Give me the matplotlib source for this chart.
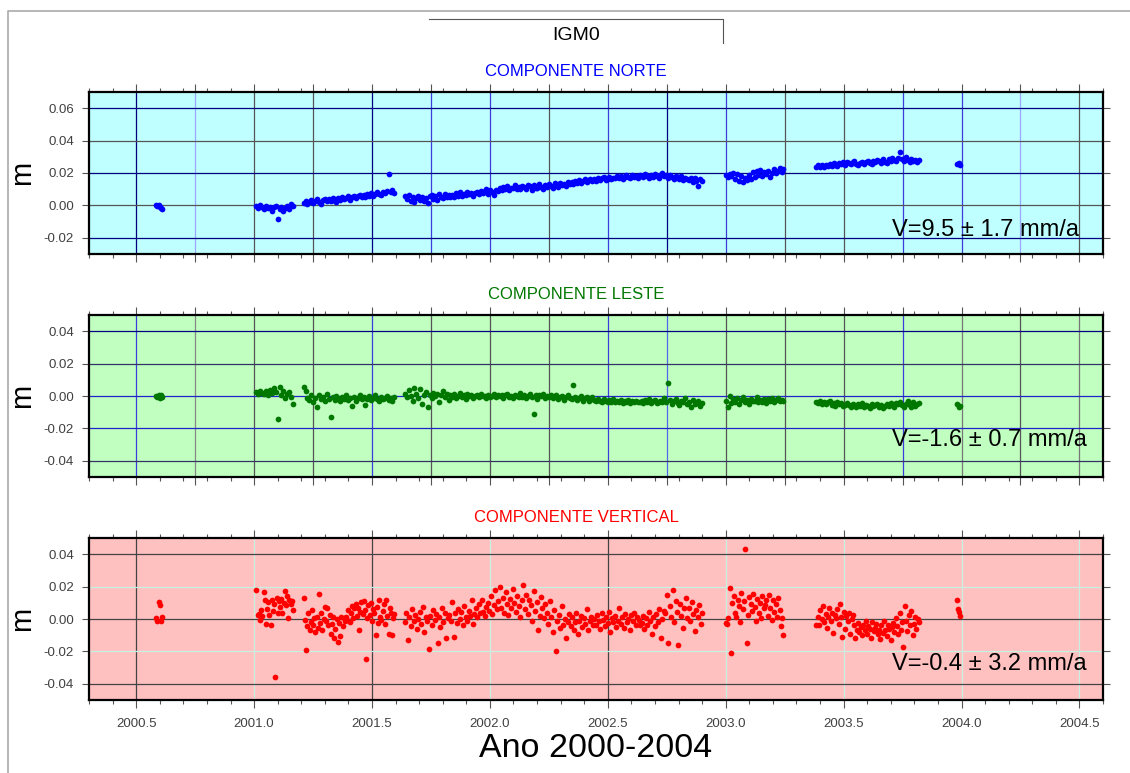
import numpy as np
import matplotlib
matplotlib.use("Agg")
import matplotlib.pyplot as plt
from matplotlib.lines import Line2D
from matplotlib.ticker import MultipleLocator, FuncFormatter

plt.rcParams['font.family'] = ['Liberation Sans', 'DejaVu Sans']

# station IGM0, daily solutions in 7 blocks (decimal years)
seg_start = [2000.585, 2001.010, 2001.210, 2001.640, 2003.000, 2003.385, 2003.982]
seg_end = [2000.610, 2001.165, 2001.595, 2002.900, 2003.245, 2003.820, 2003.995]

# north component, mm
north_mm = [
    [0.0, -0.5, 0.3, -1.0, -1.5, -2.0],
    [-0.5, -1.8, 0.2, -1.0, -2.5, -0.3, -1.5, -0.8, -3.2, -1.2, -0.5, -8.6, -2.0, -1.0, -3.5, -1.6,
     -0.2, -2.4, 0.8, -0.5],
    [1.2, 2.8, 0.8, 2.0, 3.5, 1.5, 2.6, 4.0, 2.2, 1.0, 3.1, 4.2, 2.5, 3.8, 2.9, 4.5, 3.0, 1.8, 4.8,
     3.6, 5.0, 3.9, 4.6, 5.5, 3.4, 5.2, 6.0, 4.3, 5.8, 6.5, 4.9, 6.2, 5.4, 7.0, 6.1, 7.5, 5.6, 6.8,
     8.0, 7.2, 6.4, 8.3, 7.6, 9.0, 19.2, 8.1, 9.5, 7.8],
    [5.5, 4.0, 6.2, 3.0, 5.0, 2.2, 4.5, 6.0, 3.5, 5.2, 2.8, 4.8, 1.2,
     5.5, 6.5, 4.2, 5.8, 3.6, 6.8, 5.0, 4.6, 7.0, 5.4, 6.2, 4.9,
     6.5, 5.2, 7.4, 6.0, 8.0, 5.6, 7.2, 6.6, 8.4, 6.9, 7.8, 5.9, 7.5,
     8.2, 6.8, 9.0, 7.6, 8.8, 10.2, 7.3, 9.4, 8.5, 6.2, 9.8, 8.9,
     10.5, 9.2, 11.6, 10.0, 12.2, 9.5, 11.0, 10.8, 12.6, 9.9, 11.4, 10.3, 12.0,
     11.2, 10.0, 12.5, 11.8, 9.6, 12.8, 11.0, 10.6, 13.0, 11.6, 10.2, 12.3,
     11.5, 13.2, 12.0, 10.8, 13.6, 12.4, 11.2, 14.0, 12.8, 13.5, 11.9, 14.2, 13.0,
     14.5, 13.2, 15.2, 14.0, 15.8, 13.6, 15.0, 16.2, 14.4, 15.6, 16.0, 14.8,
     16.4, 15.2, 17.0, 15.9, 16.8, 17.5, 15.6, 16.5, 17.8, 16.0, 17.2, 16.7, 18.0,
     17.0, 18.2, 16.6, 17.8, 18.6, 17.3, 16.9, 18.8, 17.6, 18.4, 17.1, 19.0,
     18.2, 17.5, 19.2, 18.0, 16.8, 18.8, 17.7, 19.5, 18.4, 17.2, 18.9, 19.8, 17.9,
     18.5, 17.0, 19.0, 17.8, 16.2, 18.2, 17.4, 16.6, 18.0, 15.8, 17.2, 16.4,
     15.5, 16.8, 14.2, 17.0, 15.0, 12.0, 16.2, 14.8],
    [18.5, 17.8, 19.2, 18.0, 20.0, 16.5, 19.5, 15.0, 18.2, 14.2, 17.0, 15.5, 18.8, 16.2, 20.5, 17.6,
     21.0, 19.0, 22.0, 18.4, 20.8, 19.6, 21.5, 17.5, 20.2, 22.4, 19.8, 21.2, 23.0, 20.6, 22.6],
    [23.8, 24.8, 24.0, 25.2, 23.4, 25.0, 24.4, 25.8, 24.6, 26.0, 25.2, 24.2, 26.4, 25.6, 26.8, 25.0,
     27.0, 26.2, 25.4, 26.6, 27.2, 25.8, 24.8, 26.4, 27.0, 25.6, 26.8, 27.4, 26.0, 25.4, 27.6, 26.6,
     28.0, 27.2, 26.4, 28.4, 27.0, 26.2, 28.6, 27.6, 29.0, 28.0, 27.2, 29.4, 33.0, 28.4, 27.6, 30.0,
     28.2, 26.8, 28.8, 27.4, 28.0, 26.6, 27.8],
    [25.5, 26.0, 25.0],
]

# east component, mm
east_mm = [
    [0.0, -0.8, 0.5, -1.2, 0.8, -0.4],
    [2.5, 1.5, 3.2, 2.0, 1.0, 2.8, 0.5, 3.5, 1.8, 4.8, 2.2, -14.2, 5.5, 0.8, 3.0, -1.5, 1.2, 2.6,
     -0.5, -5.0],
    [5.6, 2.8, -1.0, -2.2, 0.5, -4.0, -1.5, -6.8, 0.8, -2.0, -0.5, -3.2, 1.0, -1.8, -13.0, -0.8,
     -2.5, 0.2, -1.2, -3.0, -0.6, -1.8, 0.5, -2.2, -1.0, -6.0, -0.4, -2.8, -1.4, 0.6, -2.0, -0.8,
     -5.5, -1.6, -0.2, -2.6, -1.0, 0.8, -1.8, -3.2, -0.6, -2.0, -1.2, -0.3, -2.4, -1.5, -3.0, -0.9],
    [1.0, -0.5, 3.5, 0.2, -2.8, 5.2, 1.5, -1.0, 4.5, -4.8, 0.5, 2.5, -6.5,
     0.8, -1.5, 2.0, -0.2, 1.2, -3.5, 0.4, 2.8, -0.8, 1.5, -2.2, 0.6,
     -0.5, 1.0, -1.2, 0.2, 1.6, -0.8, 0.5, -1.8, 1.2, -0.3, 0.8, -1.0, 0.0,
     0.5, -0.8, 1.2, -0.2, 0.3, -1.4, 0.9, -0.5, 0.2, 1.0, -0.9, 0.4,
     -0.3, 0.8, -1.2, 0.5, 1.4, -0.6, 0.2, -1.5, 0.9, 0.0, -0.8, 1.6, -0.4,
     0.6, -1.0, 0.3, 1.2, -0.7, -11.0, 0.4, -1.6, 0.8, -0.2, 1.0, -1.2,
     0.2, -0.8, 0.9, -1.4, 0.0, 0.6, -1.8, -0.5, 0.3, -2.2, -0.9, 0.5, -1.3,
     -1.8, 7.0, -0.6, -2.4, -1.2, -0.2, -2.8, -1.5, -0.8, -3.0, -1.9, -0.9,
     -2.4, -3.2, -1.6, -2.8, -3.6, -2.0, -3.0, -4.0, -2.6, -3.4, -1.8, -3.8, -2.9,
     -3.5, -2.6, -4.2, -3.0, -3.8, -2.4, -4.4, -3.2, -3.9, -2.8, -4.0, -3.4,
     -3.0, -4.5, -2.6, -3.8, -1.8, -4.2, -3.2, -2.2, -4.6, -3.5, -2.8, -4.0, -1.5,
     -3.4, 8.0, -2.4, -4.8, -3.0, -1.6, -4.4, -5.8, -2.8, -3.6, -1.2, -5.2,
     -3.8, -6.5, -2.5, -5.0, -4.2, -3.0, -6.0, -4.5],
    [-3.0, -6.5, 0.0, -4.2, -2.0, -3.5, -1.2, -4.8, -2.6, -0.8, -3.8, -2.2, -5.0, -1.6, -3.2, -2.8,
     -0.5, -4.0, -2.4, -3.4, -1.8, -4.4, -2.0, -3.0, -1.0, -3.6, -2.6, -1.4, -3.2, -2.2, -2.8],
    [-3.5, -4.2, -2.8, -4.8, -3.6, -5.2, -4.0, -3.2, -5.5, -4.4, -6.0, -3.8, -5.0, -4.6, -6.2, -5.4,
     -4.2, -5.8, -6.5, -4.8, -5.6, -7.0, -5.2, -6.0, -4.6, -6.8, -5.5, -6.2, -7.2, -5.0, -6.4, -5.8,
     -4.8, -6.6, -5.4, -7.4, -6.0, -5.0, -6.2, -4.4, -5.6, -6.8, -4.2, -5.2, -3.6, -5.8, -6.6, -4.8,
     -3.2, -5.4, -7.0, -4.0, -6.2, -5.0, -4.4],
    [-5.0, -6.8, -6.0],
]

# vertical component, mm
up_mm = [
    [0.5, -1.0, 10.5, 8.5, -1.5, 1.5],
    [18.0, 2.5, 3.0, -0.5, 5.5, 1.8, 16.5, 12.0, -3.0, 6.0, 10.8, 2.2, -4.0, 11.5, 5.0, 9.5,
     -35.5, 13.0, 3.8, 11.0, 7.5, 12.5, 4.0, 10.0, 17.5, 8.5, 14.5, 0.5, 12.0, 9.0, 11.0, 5.5],
    [12.8, -0.5, -19.0, -4.5, 3.5, -7.0, -2.0, 5.5, -3.5, 0.5, -8.0, 1.5, -5.5, 15.5, -2.5, 4.0,
     -6.5, 0.0, 7.5, -1.5, 6.5, -4.0, 2.5, -9.0, -3.0, 1.0, -12.0, -6.0, 0.0, -14.0, -2.5, -10.5,
     1.5, -4.5, 0.5, -1.0, 1.2, -0.5, 5.5, -2.0, 3.5, 8.0, 0.5, 6.5, 9.5, 2.0, 7.0, -7.0,
     4.5, 10.5, 3.0, 11.0, 5.5, -24.5, 0.5, 8.5, 2.5, 10.0, -1.0, 6.0, 4.0, -10.0, 7.5, -2.5,
     11.5, 1.5, -0.5, 5.0, 9.0, -3.0, 12.0, 2.0, -9.0, 6.5, 4.0, -10.0, 0.5, 3.0],
    [-2.0, 3.5, -13.0, 1.0, -4.5, 6.0, -1.5, 2.5, -6.0, 0.0, 4.5, -3.0, 7.5, -8.0, 1.5, -1.0,
     -18.5, 2.0, -3.5, 5.5, -0.5, 3.0, -14.5, 1.0, -5.0, 7.0, -2.0, 4.0, -12.0, 0.5, 2.5, -1.5,
     10.5, -11.0, 3.5, -2.5, 6.0, 0.0, 4.5, -4.0, 8.0, 1.5, -1.0, 5.0, 2.0, 11.5, -3.0, 3.0,
     6.5, 1.0, 9.0, 3.5, 12.0, 4.5, 2.0, 7.5, 10.0, 5.0, 14.5, 3.0, 8.5, 18.0, 6.0, 11.0,
     20.0, 7.0, 13.0, 4.0, 16.5, 9.5, 2.5, 12.5, 6.5, 18.5, 10.0, 4.5, 14.0, 8.0, 1.5, 11.5,
     21.0, 6.0, 15.0, 3.0, 12.0, 8.5, -1.0, 17.0, 5.0, 10.5, -6.5, 2.0, 13.5, 7.0, 0.5, 9.0,
     4.0, -3.0, 11.0, 1.0, -8.0, 5.5, -19.5, -1.0, 2.5, -5.5, 8.0, -3.5, 0.0, -11.5, -2.0, 3.0,
     -4.5, 1.5, -7.0, -2.0, 4.0, -9.5, -1.0, 2.0, -5.0, 0.5, -3.0, 6.0, -6.5, -1.5, 1.0, -4.0,
     0.0, -3.5, 2.5, -1.5, -6.0, 3.5, -0.5, -4.5, 1.5, -2.5, 4.5, -8.0, 0.5, -2.0, 2.0, -5.0,
     -1.0, 6.5, -3.0, 1.0, -5.5, 3.0, -2.0, 0.0, -7.0, 2.5, -1.5, 4.0, -4.0, 1.5, -0.5, -3.5,
     -2.5, 2.0, -6.0, 0.5, -3.5, 4.5, -1.0, -9.0, 1.5, -4.5, 3.0, -2.0, 6.0, -12.0, 0.0, 5.0,
     3.5, 15.0, -15.0, 8.0, 1.0, 18.0, -2.0, 11.0, 4.5, -16.0, 9.5, 2.0, -5.5, 6.5, 13.0, 0.5,
     7.0, -1.5, 10.5, 3.0, -7.5, 5.5, 1.0, 8.5, -3.0, 4.0],
    [-2.5, -3.0, 0.5, 19.0, -21.0, 10.0, 14.5, 4.0, 1.5, 12.0, 8.0, -2.0, 16.0, 6.0, 11.0, 43.0,
     -14.5, 2.5, 13.5, 9.0, 5.0, 15.5, 7.5, -1.0, 12.5, 3.5, 10.0, 0.5, 14.0, 6.5, 8.5, 11.5,
     2.0, 15.0, 7.0, -0.5, 12.0, 4.5, 9.5, 1.0, 13.0, 5.5, -4.5, 0.5, -10.0],
    [-4.0, 1.0, -3.5, 5.5, 0.0, 8.0, -2.0, 3.0, -5.5, 1.5, 7.0, -1.0, 4.0, -8.5, 2.5, 0.5,
     6.0, -3.0, 9.5, 1.0, -11.0, 4.5, -6.0, 2.0, -1.5, 3.5, -9.0, 0.0, 2.5, -4.0, -12.0, -6.5,
     -2.5, -8.0, -5.0, -10.0, -3.5, -7.0, -1.0, -9.5, -4.5, -6.0, -11.5, -2.0, -7.5, -5.5, -3.0, -9.0,
     -6.5, -12.5, -4.0, -8.5, -1.5, -7.0, -10.5, -3.5, -6.0, -13.0, -5.0, -2.5, -8.0, 0.5, -4.5, -9.5,
     3.5, -6.5, -2.0, -17.0, 8.0, -1.0, -7.5, 2.5, -4.0, 5.0, -10.0, -3.0, 1.5, -6.0, 0.0, -2.0],
    [12.0, 6.0, 4.5, 2.0],
]

titles = ['COMPONENTE NORTE', 'COMPONENTE LESTE', 'COMPONENTE VERTICAL']
velocities = ['V=9.5 \u00b1 1.7 mm/a', 'V=-1.6 \u00b1 0.7 mm/a', 'V=-0.4 \u00b1 3.2 mm/a']


def epochs_and_values(blocks):
    t, v = [], []
    for a, b, vals in zip(seg_start, seg_end, blocks):
        t.append(np.linspace(a, b, len(vals)))
        v.append(np.array(vals) / 1000.0)
    return np.concatenate(t), np.concatenate(v)


navy, blue, lblue, gray = '#000080', '#3c3cdc', '#9aa8ff', '#555555'
cyan = '#c8f0e0'
panels = [
    dict(data=north_mm, color='#0000ff', bg='#c0ffff', ylim=(-0.03, 0.07), yt=[-0.02, 0, 0.02, 0.04, 0.06],
         vstep=0.25,
         vcol=[navy, lblue, gray, gray, navy, blue, blue, gray, blue, navy, blue, gray, gray, blue, blue, lblue, gray],
         hcol=[navy, gray, navy, gray, navy], rect=[0.0788, 0.6714, 0.8973, 0.2096], vy=0.111),
    dict(data=east_mm, color='#007800', bg='#c0ffc0', ylim=(-0.05, 0.05), yt=[-0.04, -0.02, 0, 0.02, 0.04],
         vstep=0.25,
         vcol=[blue, '#888888', gray, gray, blue, gray, gray, gray, blue, '#5566ee', gray, gray, gray, blue,
               '#777777', gray, '#777777'],
         hcol=['#333366', '#2222cc', '#2222cc', '#333366', navy], rect=[0.0788, 0.3829, 0.8973, 0.2096], vy=0.191),
    dict(data=up_mm, color='#ff0000', bg='#ffc0c0', ylim=(-0.05, 0.05), yt=[-0.04, -0.02, 0, 0.02, 0.04],
         vstep=0.5,
         vcol=['#444444', cyan, '#444444', cyan, '#444444', cyan, cyan, cyan, cyan],
         hcol=['#444444', cyan, '#444444', cyan, '#444444'], rect=[0.0788, 0.0944, 0.8973, 0.2096], vy=0.185),
]
title_y = [1 - 76 / 773, 1 - 299 / 773, 1 - 522 / 773]

fig = plt.figure(figsize=(11.3, 7.73), dpi=100)

for i, p in enumerate(panels):
    ax = fig.add_axes(p['rect'])
    ax.set_facecolor(p['bg'])
    ax.set_xlim(2000.3, 2004.6)
    ax.set_ylim(*p['ylim'])

    vx = np.arange(2000.5, 2004.51, p['vstep'])
    for x, c in zip(vx, p['vcol']):
        ax.axvline(x, color=c, lw=0.9, zorder=1)
    for y, c in zip(p['yt'], p['hcol']):
        ax.axhline(y, color=c, lw=0.9, zorder=1)

    t, v = epochs_and_values(p['data'])
    ax.scatter(t, v, s=17, color=p['color'], linewidths=0, zorder=3)

    ax.set_yticks(p['yt'])
    ax.yaxis.set_major_formatter(FuncFormatter(lambda y, pos: '%.2f' % (round(y, 4) + 0.0)))
    ax.tick_params(axis='y', which='both', direction='out', length=5, width=0.8, left=True, right=True,
                   labelsize=9.5, labelcolor='#404040', color='#555555', pad=6)
    if i < 2:
        ax.xaxis.set_major_locator(MultipleLocator(0.25))
    else:
        ax.xaxis.set_major_locator(MultipleLocator(0.5))
    ax.xaxis.set_minor_locator(MultipleLocator(0.1))
    ax.tick_params(axis='x', which='major', direction='out', length=6, width=0.8, top=True, bottom=True,
                   color='#555555', labelsize=9.5, labelcolor='#404040', pad=7)
    ax.tick_params(axis='x', which='minor', direction='out', length=3, width=0.8, top=True, bottom=True,
                   color='#555555')
    if i < 2:
        ax.tick_params(axis='x', labelbottom=False)
    else:
        ax.xaxis.set_major_formatter(FuncFormatter(lambda x, pos: '%.1f' % x))
        ax.set_xlabel('Ano 2000-2004', fontsize=24.5, labelpad=2)

    for s in ax.spines.values():
        s.set_linewidth(1.6)
        s.set_color('black')
        s.set_zorder(4)

    ax.text(0.792, p['vy'], velocities[i], transform=ax.transAxes, fontsize=17, ha='left', va='baseline',
            zorder=5)

    fig.text(576 / 1130, title_y[i], titles[i], color=p['color'], fontsize=12, ha='center', va='baseline')
    fig.text(22 / 1130, p['rect'][1] + p['rect'][3] / 2, 'm', fontsize=21, rotation=90, ha='center',
             va='center')

fig.text(576 / 1130, 1 - 40 / 773, 'IGM0', fontsize=14, ha='center', va='baseline')
fig.add_artist(Line2D([429 / 1130, 723 / 1130, 723 / 1130], [1 - 19 / 773, 1 - 19 / 773, 1 - 43 / 773],
                      color='#555555', lw=0.8))
fig.add_artist(Line2D([1.0, 8 / 1130, 8 / 1130], [1 - 11 / 773, 1 - 11 / 773, 0.0], color='#aaaaaa', lw=1.2))

fig.savefig('out.png', dpi=100)
